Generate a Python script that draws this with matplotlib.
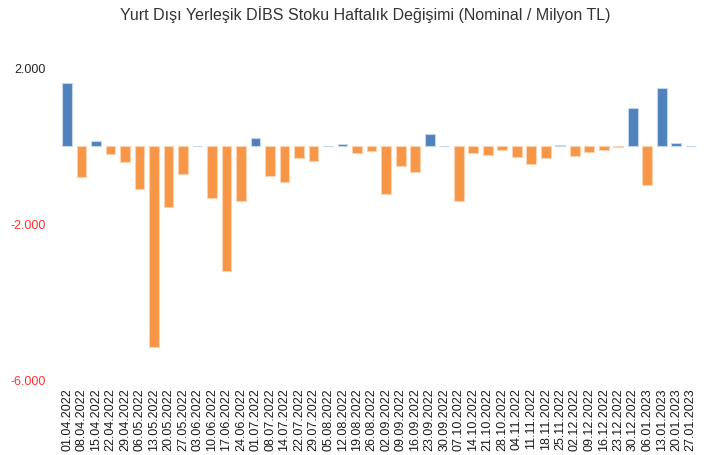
import matplotlib
matplotlib.use("Agg")
import matplotlib.pyplot as plt

# haftalık tarih etiketleri
dates = [
    "01.04.2022", "08.04.2022", "15.04.2022", "22.04.2022", "29.04.2022",
    "06.05.2022", "13.05.2022", "20.05.2022", "27.05.2022", "03.06.2022",
    "10.06.2022", "17.06.2022", "24.06.2022", "01.07.2022", "08.07.2022",
    "14.07.2022", "22.07.2022", "29.07.2022", "05.08.2022", "12.08.2022",
    "19.08.2022", "26.08.2022", "02.09.2022", "09.09.2022", "16.09.2022",
    "23.09.2022", "30.09.2022", "07.10.2022", "14.10.2022", "21.10.2022",
    "28.10.2022", "04.11.2022", "11.11.2022", "18.11.2022", "25.11.2022",
    "02.12.2022", "09.12.2022", "16.12.2022", "23.12.2022", "30.12.2022",
    "06.01.2023", "13.01.2023", "20.01.2023", "27.01.2023",
]

# haftalık değişim (milyon TL), resimden okunan yaklaşık değerler
changes = [
    1630, -795, 128, -188, -410,
    -1110, -5145, -1556, -718, 15,
    -1333, -3197, -1410, 205, -761,
    -923, -299, -376, 15, 51,
    -171, -111, -1222, -504, -658,
    316, 10, -1410, -171, -214,
    -94, -282, -453, -308, 34,
    -248, -154, -94, -17, 991,
    -983, 1496, 77, 10,
]

yticks = [2000, -2000, -6000]

plt.rcParams['font.family'] = ['Liberation Sans', 'DejaVu Sans']

fig = plt.figure(figsize=(7.09, 4.55), dpi=100)
ax = fig.add_axes([0.0843, 0.1648, 0.900, 0.6851])

colors = ['#4F81BD' if v >= 0 else '#F79646' for v in changes]
edges = ['#C6D6EA' if v >= 0 else '#FBD3B0' for v in changes]
x = list(range(len(changes)))
ax.bar(x, changes, width=0.68, color=colors, edgecolor=edges, linewidth=0.8)

ax.set_xlim(-0.5, len(changes) - 0.5)
ax.set_ylim(-6000, 2000)
ax.set_xticks(x)
ax.set_xticklabels(dates, rotation=90, fontsize=9, color='#1a1a1a')
ax.set_yticks(yticks)
ax.set_yticklabels([f"{v:,}".replace(",", ".") for v in yticks], fontsize=9)
for lbl, v in zip(ax.get_yticklabels(), yticks):
    lbl.set_color('#FF3333' if v < 0 else '#262626')

ax.tick_params(axis='y', length=0, pad=10)
ax.tick_params(axis='x', length=0, pad=6)
for s in ax.spines.values():
    s.set_visible(False)

fig.text(0.515, 0.967, "Yurt Dışı Yerleşik DİBS Stoku Haftalık Değişimi (Nominal / Milyon TL)",
         ha='center', va='center', fontsize=11.5, color='#333333')

fig.savefig("out.png", dpi=100)
